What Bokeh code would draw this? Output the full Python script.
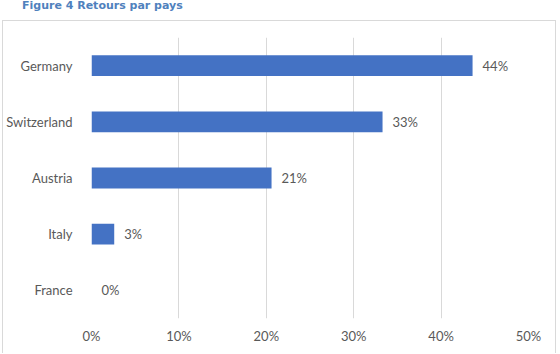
from bokeh.plotting import figure
from bokeh.layouts import column
from bokeh.models import ColumnDataSource, LabelSet, NumeralTickFormatter, FixedTicker, Div
from bokeh.core.properties import value
from bokeh.embed import file_html
from bokeh.resources import INLINE

title_text = "Figure 4 Retours par pays"
countries = ["France", "Italy", "Austria", "Switzerland", "Germany"]
shares = [0.0, 0.026, 0.206, 0.333, 0.436]
x_ticks = [0.0, 0.1, 0.2, 0.3, 0.4, 0.5]

labels = ["{:.0%}".format(v) for v in shares]
src = ColumnDataSource(dict(country=countries, share=shares, label=labels))

FONT = "Lato"
GREY = "#595959"

title = Div(text=title_text, width=560, height=20, margin=(0, 0, 0, 0),
            styles={"font-family": "DejaVu Sans", "font-weight": "bold", "font-size": "11px",
                    "color": "#4F81BD", "padding-left": "22px", "line-height": "12px"})

p = figure(width=554, height=333, y_range=countries, x_range=(0, 0.5),
           output_backend="svg", toolbar_location=None,
           min_border_left=82, min_border_right=29, min_border_top=16, min_border_bottom=36,
           margin=(0, 0, 0, 2),
           styles={"border-top": "1px solid #d9d9d9", "border-left": "1px solid #d9d9d9",
                   "border-right": "1px solid #d9d9d9"})
p.outline_line_color = None
p.background_fill_color = "white"
p.border_fill_color = "white"

p.hbar(y="country", right="share", height=0.37, source=src,
       fill_color="#4472C4", line_color=None)

p.add_layout(LabelSet(x="share", y="country", text="label", source=src,
                      x_offset=10, text_baseline="middle", text_font=value(FONT),
                      text_font_size="13px", text_color=GREY))

p.xaxis.ticker = FixedTicker(ticks=x_ticks)
p.xaxis.formatter = NumeralTickFormatter(format="0%")
for ax in (p.xaxis[0], p.yaxis[0]):
    ax.axis_line_color = None
    ax.major_tick_line_color = None
    ax.minor_tick_line_color = None
    ax.major_label_text_font = FONT
    ax.major_label_text_font_size = "13px"
    ax.major_label_text_color = GREY
p.xaxis.major_label_standoff = 3
p.yaxis.major_label_standoff = 13

p.xgrid.grid_line_color = "#d9d9d9"
p.ygrid.grid_line_color = None

layout = column(title, p, spacing=0)
open("out.html", "w").write(file_html(layout, INLINE))
